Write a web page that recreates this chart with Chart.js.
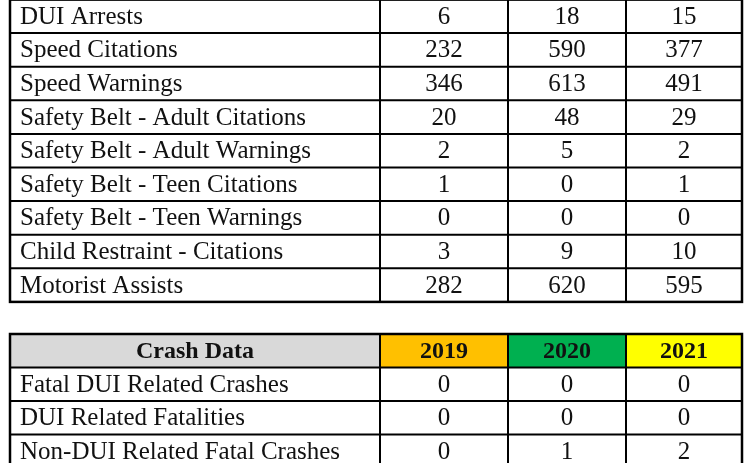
<!DOCTYPE html>
<html><head><meta charset="utf-8">
<script src="https://cdn.jsdelivr.net/npm/chart.js@4"></script>
<style>html,body{margin:0;padding:0;background:#fff}#c{display:block}</style>
</head><body>
<div style="width:750px;height:463px"><canvas id="c" width="750" height="463"></canvas></div>
<script>
const enforcementRows = ["DUI Arrests","Speed Citations","Speed Warnings","Safety Belt - Adult Citations","Safety Belt - Adult Warnings","Safety Belt - Teen Citations","Safety Belt - Teen Warnings","Child Restraint - Citations","Motorist Assists"];
const enf2019 = [6,232,346,20,2,1,0,3,282];
const enf2020 = [18,590,613,48,5,0,0,9,620];
const enf2021 = [15,377,491,29,2,1,0,10,595];
const crashTitle = "Crash Data";
const years = ["2019","2020","2021"];
const crashRows = ["Fatal DUI Related Crashes","DUI Related Fatalities","Non-DUI Related Fatal Crashes"];
const crash2019 = [0,0,0];
const crash2020 = [0,0,1];
const crash2021 = [0,0,2];

const cols = [10,380,508,626,742];
const yearColors = ["#FFC000","#00B050","#FFFF00"];
const tablePlugin = {
  id:'tables',
  afterDraw(chart){
    const ctx = chart.ctx;
    ctx.save();
    ctx.fillStyle='#fff';ctx.fillRect(0,0,750,463);
    const font = '25px "Liberation Serif", serif';
    const bold = 'bold 24px "Liberation Serif", serif';
    function row(y,h,label,vals,opts={}){
      if(opts.fills){
        ctx.fillStyle='#D9D9D9';ctx.fillRect(cols[0],y,cols[1]-cols[0],h);
        for(let i=0;i<3;i++){ctx.fillStyle=opts.fills[i];ctx.fillRect(cols[i+1],y,cols[i+2]-cols[i+1],h);}
      }
      ctx.fillStyle='#111';ctx.textBaseline='middle';
      ctx.font=opts.bold?bold:font;
      if(opts.center){ctx.textAlign='center';ctx.fillText(label,(cols[0]+cols[1])/2,y+h/2+1);}
      else{ctx.textAlign='left';ctx.fillText(label,cols[0]+10,y+h/2+1);}
      ctx.textAlign='center';
      for(let i=0;i<3;i++) ctx.fillText(String(vals[i]),(cols[i+1]+cols[i+2])/2,y+h/2+1);
    }
    function grid(top,h,n){
      ctx.strokeStyle='#000';ctx.lineWidth=2;
      for(let i=0;i<=n;i++){const y=top+i*h;ctx.beginPath();ctx.moveTo(cols[0],y);ctx.lineTo(cols[4],y);ctx.stroke();}
      ctx.lineWidth=2.5;ctx.strokeRect(cols[0],top,cols[4]-cols[0],h*n);
      ctx.lineWidth=2;
      for(let c=1;c<4;c++){ctx.beginPath();ctx.moveTo(cols[c],top);ctx.lineTo(cols[c],top+h*n);ctx.stroke();}
    }
    const h1=33.6, t1=-0.5;
    enforcementRows.forEach((l,i)=>row(t1+i*h1,h1,l,[enf2019[i],enf2020[i],enf2021[i]]));
    grid(t1,h1,enforcementRows.length);
    const h2=33.5, t2=334;
    row(t2,h2,crashTitle,years,{bold:true,center:true,fills:yearColors});
    crashRows.forEach((l,i)=>row(t2+(i+1)*h2,h2,l,[crash2019[i],crash2020[i],crash2021[i]]));
    grid(t2,h2,crashRows.length+1);
    ctx.restore();
  }
};
new Chart(document.getElementById('c'),{
  type:'bar',
  data:{labels:enforcementRows,datasets:[{data:enf2019,backgroundColor:'rgba(0,0,0,0)'}]},
  options:{responsive:false,animation:false,plugins:{legend:{display:false},tooltip:{enabled:false}},
    scales:{x:{display:false},y:{display:false}}},
  plugins:[tablePlugin]
});
</script></body></html>
